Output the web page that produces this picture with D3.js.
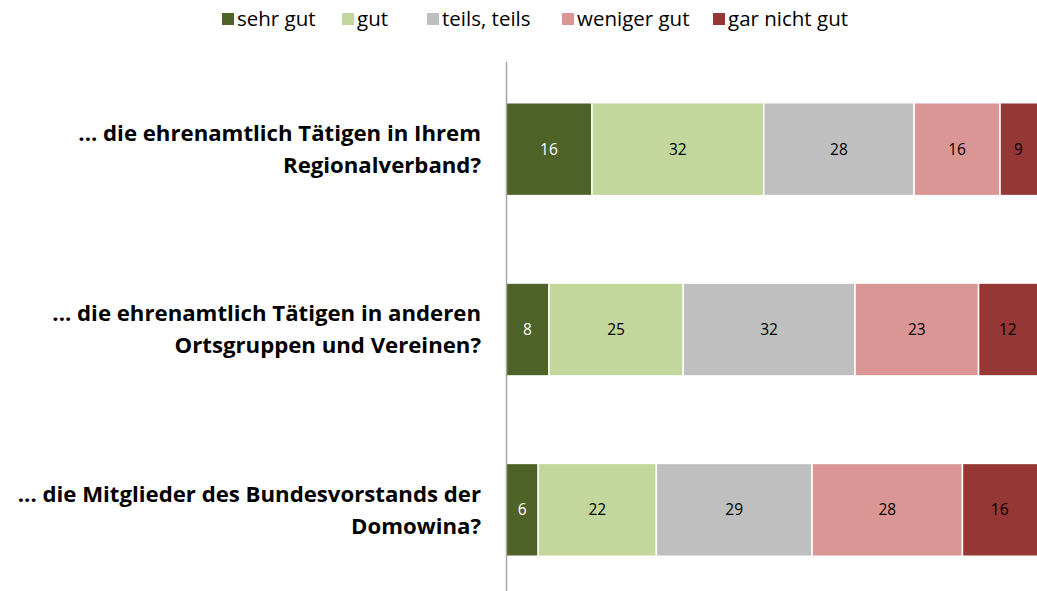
<!DOCTYPE html>
<html>
<head>
<meta charset="utf-8">
<script src="https://cdn.jsdelivr.net/npm/d3@7"></script>
<style>
  body { margin: 0; background: #fff; }
  svg { display: block; font-family: "Open Sans", sans-serif; }
</style>
</head>
<body>
<div id="chart"></div>
<script>
const categories = [
  "... die ehrenamtlich Tätigen in Ihrem|Regionalverband?",
  "... die ehrenamtlich Tätigen in anderen|Ortsgruppen und Vereinen?",
  "... die Mitglieder des Bundesvorstands der|Domowina?"
];
const seriesNames = ["sehr gut", "gut", "teils, teils", "weniger gut", "gar nicht gut"];
const colors = ["#4f6228", "#c3d69b", "#bfbfbf", "#d99694", "#953735"];
const sehrGut = [16, 8, 6];
const gut = [32, 25, 22];
const teils = [28, 32, 29];
const weniger = [16, 23, 28];
const garNicht = [9, 12, 16];

const values = [sehrGut, gut, teils, weniger, garNicht];
const rows = categories.map((c, i) => {
  const r = { cat: c };
  seriesNames.forEach((s, j) => r[s] = values[j][i]);
  return r;
});

const width = 1037, height = 591;
const svg = d3.select("#chart").append("svg")
  .attr("width", width)
  .attr("height", height);

const x = d3.scaleLinear().domain([0, 100]).range([506, 1043]);
const y = d3.scaleBand()
  .domain(categories)
  .range([59, 600])
  .paddingInner(0.485)
  .paddingOuter(0.2425);

const stack = d3.stack().keys(seriesNames)(rows);

// Balken
const layer = svg.selectAll("g.layer")
  .data(stack)
  .enter().append("g")
  .attr("class", "layer")
  .attr("fill", (d, i) => colors[i]);

layer.selectAll("rect")
  .data(d => d)
  .enter().append("rect")
  .attr("x", d => x(d[0]))
  .attr("y", d => y(d.data.cat))
  .attr("width", d => x(d[1]) - x(d[0]))
  .attr("height", y.bandwidth())
  .attr("stroke", "#fff")
  .attr("stroke-width", 1.5);

// Werte
layer.selectAll("text")
  .data(d => d)
  .enter().append("text")
  .attr("x", d => (x(d[0]) + Math.min(x(d[1]), width)) / 2)
  .attr("y", d => y(d.data.cat) + y.bandwidth() / 2)
  .attr("dy", "0.35em")
  .attr("text-anchor", "middle")
  .style("font-size", "15.5px")
  .style("fill", function() {
    return d3.select(this.parentNode).datum().index === 0 ? "#fff" : "#000";
  })
  .text(function(d) {
    return d[1] - d[0];
  });

// Achse
svg.append("line")
  .attr("x1", 506.5).attr("x2", 506.5)
  .attr("y1", 62).attr("y2", 591)
  .attr("stroke", "#a6a6a6")
  .attr("stroke-width", 1.5);

// Kategorien
const labels = svg.selectAll("text.cat")
  .data(categories)
  .enter().append("text")
  .attr("class", "cat")
  .attr("text-anchor", "end")
  .style("font-size", "22.2px")
  .style("font-weight", "bold")
  .style("fill", "#000");

labels.each(function(d) {
  const parts = d.split("|");
  const cy = y(d) + y.bandwidth() / 2;
  d3.select(this).selectAll("tspan")
    .data(parts)
    .enter().append("tspan")
    .attr("x", 481)
    .attr("y", (p, i) => cy + (i === 0 ? -16 : 16))
    .attr("dy", "0.35em")
    .text(p => p);
});

// Legende
const legendX = [222, 342, 427, 562, 713];
const legend = svg.selectAll("g.legend")
  .data(seriesNames)
  .enter().append("g")
  .attr("class", "legend")
  .attr("transform", (d, i) => `translate(${legendX[i]},19)`);

legend.append("rect")
  .attr("x", 0).attr("y", -6)
  .attr("width", 12).attr("height", 12)
  .attr("fill", (d, i) => colors[i]);

legend.append("text")
  .attr("x", 15)
  .attr("dy", "0.35em")
  .style("font-size", "20.5px")
  .style("fill", "#000")
  .text(d => d);
</script>
</body>
</html>
